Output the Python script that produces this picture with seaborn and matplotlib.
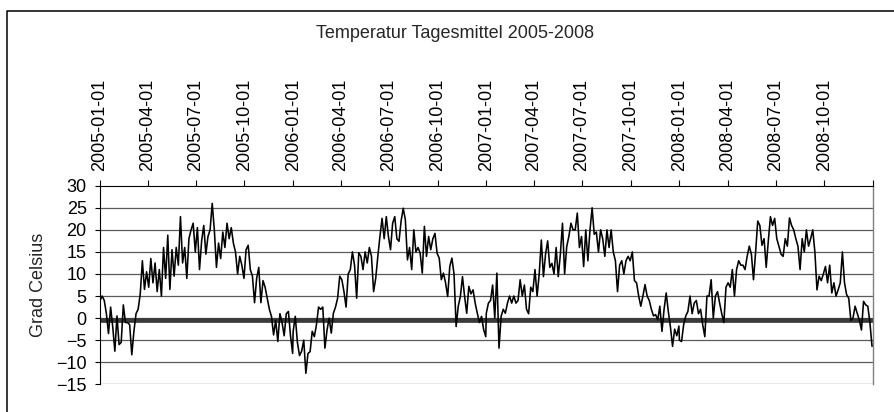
import pandas as pd
import matplotlib
matplotlib.use("Agg")
import matplotlib.pyplot as plt
import seaborn as sns
from matplotlib.lines import Line2D

t2005 = [4, 5, 4, 1, -3.5, 2.5, -2, -7.5, 0.5, -6, -5.5, 3, -1, -1, -1.5, -8.3,
         -3, 1, 2, 5.5, 13, 6.5, 10.5, 7, 13.5, 8, 12.5, 6, 11, 5, 16, 9,
         18.8, 6.5, 15.5, 9.5, 16, 12, 23, 12.5, 16, 9, 18, 20, 21.5, 15, 20.5, 11,
         17.5, 21, 14.5, 18.5, 20, 26, 20, 11.5, 17, 13.5, 19.5, 16, 21.5, 18,
         20.5, 17, 15, 10, 14, 12, 9, 15.5, 16.5, 11, 9.5, 3.5, 9, 11.5, 3.5, 8.5,
         7, 4.5, 2, 0.4, -3.8, -0.5, -5.3, 1, -1, -4, 1, 1.5, -4, -8]
t2006 = [-3, 0.4, -5.5, -8.5, -7.5, -5, -12.5, -8, -7.6, -3, -4.2, -1.5, 2.5, 2, 2.5, -6.8,
         -2.7, 0, -3.4, 1.1, 2.5, 4.5, 9.5, 8.7, 6, 2.5, 10, 11, 15, 12, 4.5, 14.8,
         14, 11, 15, 12.5, 16, 14, 6, 9, 14, 18.5, 22.6, 18, 23, 18.5, 15.5, 21.5,
         23, 18, 17.4, 22, 24.9, 22.3, 13.2, 16, 11, 20, 15, 16, 14.7, 10.2,
         20.8, 14, 18.5, 15.5, 18, 19.2, 14.7, 13.6, 8.7, 10.2, 8, 4.9, 11.7, 13.6, 10, -1.9,
         2.7, 4.9, 9.4, 4.9, 1.1, 7.2, 5.5, 6.4, 3.4, 1.1, -1, 0.4, -2.6, -4.2]
t2007 = [1.1, 3.4, 4, 7.5, 0, 10.2, -6.8, 0.4, 2, 1.1, 3.4, 5, 3.4, 5, 3.4, 4,
         8.7, 5, 7.5, 2, 1, 7, 6, 11, 5, 10, 17.7, 9.4, 14.5, 17.5, 11.5, 12.4,
         10, 16, 9.4, 14.5, 21.5, 10, 16.2, 18.5, 21.5, 20, 20, 23.8, 16, 18.5, 11.7, 20,
         13, 20, 25, 19, 19.5, 15, 20, 18, 14, 20, 16, 20, 15, 13,
         6, 12, 13, 10, 13, 14, 13, 15, 8.5, 8, 5, 2.7, 5, 7.6, 5, 4,
         2, 0.5, 0.8, -0.4, 2.7, -3, 2, 5.7, 1.5, -2, -6.4, -2.5, -4, -1.8]
t2008 = [-5, -5.3, -1.5, 0.5, 1.5, 5, 1, 3.4, 4, 1, 2, -1.5, -4.2, 5, 5, 8.7,
         0, 5, 6, 3.4, 1, -1, 7, 8, 7, 11, 5, 11, 13, 12, 12, 11,
         14, 16.3, 14.5, 8.7, 15, 22, 21, 16.5, 18, 11.5, 17.5, 23, 21, 22.6, 18, 16.3,
         14.5, 14, 18, 16.3, 22.7, 21, 20, 18, 16.3, 11, 18, 15, 20, 16.3,
         18, 20, 15, 6.4, 9.5, 8.5, 10, 11.7, 8, 12, 5.7, 8, 5, 6.4, 8, 15,
         8, 5.3, 4.5, -0.5, 0, 2.7, 1.1, -0.4, -2.7, 3.8, 3, 2.7, -1, -6.4]

jahre = [2005, 2006, 2007, 2008]
werte = [t2005, t2006, t2007, t2008]

teile = []
for j, w in zip(jahre, werte):
    d = pd.date_range(f"{j}-01-01", periods=len(w), freq="4D")
    teile.append(pd.DataFrame({"Datum": d, "Temp": w}))
df = pd.concat(teile, ignore_index=True)

sns.set_style("white")
plt.rcParams["font.family"] = ["Liberation Sans", "DejaVu Sans"]

fig = plt.figure(figsize=(8.94, 4.12), dpi=100)
ax = fig.add_axes([0.1119, 0.0672, 0.8647, 0.4820])

# Gitterlinien und dicke Nulllinie
for v in range(-15, 30, 5):
    ax.axhline(v, color="#5a5a5a", lw=0.9, zorder=0)
ax.axhline(-0.4, color="#3a3a3a", lw=3.4, zorder=1.5)

sns.lineplot(data=df, x="Datum", y="Temp", ax=ax, color="black", lw=1.15, zorder=3)

ax.set_ylim(-15, 30)
ax.set_yticks(range(-15, 31, 5))

ticks = pd.date_range("2005-01-01", "2009-01-01", freq="QS")
labels = [d.strftime("%Y-%m-%d") for d in ticks[:-1]] + [""]
ax.set_xlim(ticks[0], ticks[-1])
ax.xaxis.tick_top()
ax.set_xticks(ticks)
ax.set_xticklabels(labels, rotation=90, fontsize=13)
ax.tick_params(axis="x", top=True, bottom=False, direction="out",
               length=4.3, width=0.8, pad=6, colors="black")
ax.tick_params(axis="y", left=True, direction="out", length=3.6, width=0.8,
               pad=6, labelsize=13, colors="black")

ax.set_xlabel("")
ax.set_ylabel("Grad Celsius", fontsize=13, va="center")
ax.yaxis.set_label_coords(-0.0802, 0.5)

ax.spines["bottom"].set_visible(False)
ax.spines["right"].set_color("#808080")
ax.spines["right"].set_linewidth(1.0)
for s in ["left", "top"]:
    ax.spines[s].set_color("black")
    ax.spines[s].set_linewidth(0.8)

fig.text(455 / 894, 1 - 33 / 412, "Temperatur Tagesmittel 2005-2008",
         ha="center", va="center", fontsize=13)

# Rahmen des Diagrammbereichs (links und oben sichtbar)
x0, y0 = 6.7 / 894, 1 - 10.7 / 412
fig.add_artist(Line2D([x0, x0, 1.01], [-0.01, y0, y0], color="black", lw=1.1,
                      transform=fig.transFigure))

fig.savefig("out.png", dpi=100)
